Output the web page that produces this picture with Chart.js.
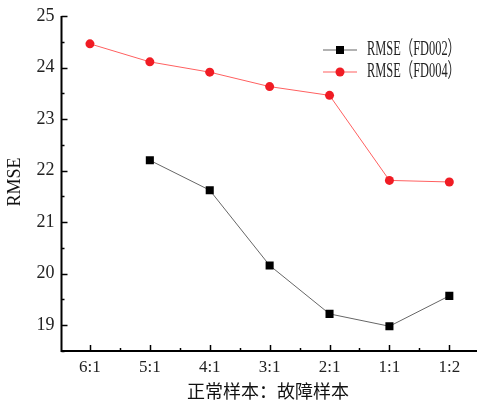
<!DOCTYPE html>
<html><head><meta charset="utf-8">
<script src="https://cdn.jsdelivr.net/npm/chart.js@4/dist/chart.umd.min.js"></script>
<style>html,body{margin:0;padding:0;background:#fff;overflow:hidden}#w{width:477px;height:403px}</style>
</head><body><div id="w"><canvas id="c"></canvas></div>
<script>
const categories = ['6:1','5:1','4:1','3:1','2:1','1:1','1:2'];
const fd002 = [null, 22.20, 21.62, 20.16, 19.22, 18.98, 19.57];
const fd004 = [24.46, 24.11, 23.91, 23.63, 23.46, 21.81, 21.78];
const seriesNames = ['RMSE（FD002）','RMSE（FD004）'];
const yTicks = [19, 20, 21, 22, 23, 24, 25];
const xTitle = '正常样本：故障样本';
const yTitle = 'RMSE';

const toPts = arr => arr.map((v,i)=> v==null?null:{x:i,y:v}).filter(p=>p);
const zeroPad = s => { s.paddingLeft = 0; s.paddingRight = 0; s.paddingTop = 0; s.paddingBottom = 0; };

const decor = {
  id:'decor',
  afterDraw(chart){
    const ctx = chart.ctx, xs = chart.scales.x, ys = chart.scales.y, a = chart.chartArea;
    ctx.save();
    ctx.strokeStyle = '#000'; ctx.lineWidth = 2;
    ctx.beginPath();
    ctx.moveTo(a.left, a.top); ctx.lineTo(a.left, a.bottom); ctx.lineTo(chart.width, a.bottom);
    ctx.stroke();
    ctx.lineWidth = 1.5;
    for (let v = 18.5; v <= 25.001; v += 0.5) {
      const y = Math.round(ys.getPixelForValue(v)) + 0.5;
      const major = Math.abs(v - Math.round(v)) < 1e-6;
      ctx.beginPath(); ctx.moveTo(a.left, y); ctx.lineTo(a.left + (major ? 6 : 3), y); ctx.stroke();
    }
    for (let i = 0; i < categories.length; i++) {
      const x = Math.round(xs.getPixelForValue(i)) + 0.5;
      ctx.beginPath(); ctx.moveTo(x, a.bottom); ctx.lineTo(x, a.bottom - 6); ctx.stroke();
      if (i < categories.length - 1) {
        const xm = Math.round(xs.getPixelForValue(i + 0.5)) + 0.5;
        ctx.beginPath(); ctx.moveTo(xm, a.bottom); ctx.lineTo(xm, a.bottom - 3); ctx.stroke();
      }
    }
    ctx.fillStyle = '#111';
    ctx.font = '18px "Noto Sans CJK SC"';
    ctx.textAlign = 'center'; ctx.textBaseline = 'middle';
    ctx.fillText(xTitle, 268, 391);
    ctx.save();
    ctx.translate(15, 182); ctx.rotate(-Math.PI/2);
    ctx.font = '18px "Liberation Serif"';
    ctx.fillText(yTitle, 0, 0);
    ctx.restore();
    const ds = chart.data.datasets;
    const rows = [50, 72];
    ds.forEach((d, k) => {
      const y = rows[k];
      ctx.strokeStyle = d.borderColor; ctx.lineWidth = 1.2;
      ctx.beginPath(); ctx.moveTo(323, y); ctx.lineTo(357, y); ctx.stroke();
      ctx.fillStyle = d.pointBackgroundColor;
      if (d.pointStyle === 'rect') { ctx.fillRect(340 - 4, y - 4, 8, 8); }
      else { ctx.beginPath(); ctx.arc(340, y, 4.5, 0, Math.PI*2); ctx.fill(); }
      ctx.fillStyle = '#222';
      ctx.font = '20px "Liberation Serif", "Noto Sans CJK SC"';
      ctx.textAlign = 'left'; ctx.textBaseline = 'middle';
      const w = ctx.measureText(d.label).width;
      ctx.save();
      ctx.translate(367, y);
      ctx.scale(93 / w, 1);
      ctx.fillText(d.label, 0, 0);
      ctx.restore();
    });
    ctx.restore();
  }
};

new Chart(document.getElementById('c'), {
  type: 'line',
  data: {
    datasets: [
      { label: seriesNames[0], data: toPts(fd002), borderColor: '#666', borderWidth: 1,
        pointStyle: 'rect', pointRadius: 5.7, pointBackgroundColor: '#000', pointBorderColor: '#000', pointBorderWidth: 0 },
      { label: seriesNames[1], data: toPts(fd004), borderColor: '#ff6060', borderWidth: 1,
        pointStyle: 'circle', pointRadius: 4.5, pointBackgroundColor: '#f01c24', pointBorderColor: '#f01c24', pointBorderWidth: 0 }
    ]
  },
  options: {
    responsive: true, maintainAspectRatio: false, animation: false,
    layout: { padding: { top: 16, right: 0, left: 0, bottom: 0 } },
    plugins: { legend: { display: false }, tooltip: { enabled: false } },
    scales: {
      x: { type: 'linear', min: -0.475, max: 6.367,
        afterBuildTicks: s => { s.ticks = categories.map((c,i)=>({value:i})); },
        afterFit: s => { s.height = 52; zeroPad(s); },
        border: { display: false }, grid: { display: false, drawTicks: false },
        ticks: { padding: 6, color: '#222', font: { family: 'Liberation Serif', size: 17 },
          callback: v => categories[v] ?? '' } },
      y: { min: 18.5, max: 25,
        afterBuildTicks: s => { s.ticks = yTicks.map(v=>({value:v})); },
        afterFit: s => { s.width = 61.5; zeroPad(s); },
        border: { display: false }, grid: { display: false, drawTicks: false },
        ticks: { padding: 7, color: '#222', font: { family: 'Liberation Serif', size: 18 } } }
    }
  },
  plugins: [decor]
});
</script></body></html>
